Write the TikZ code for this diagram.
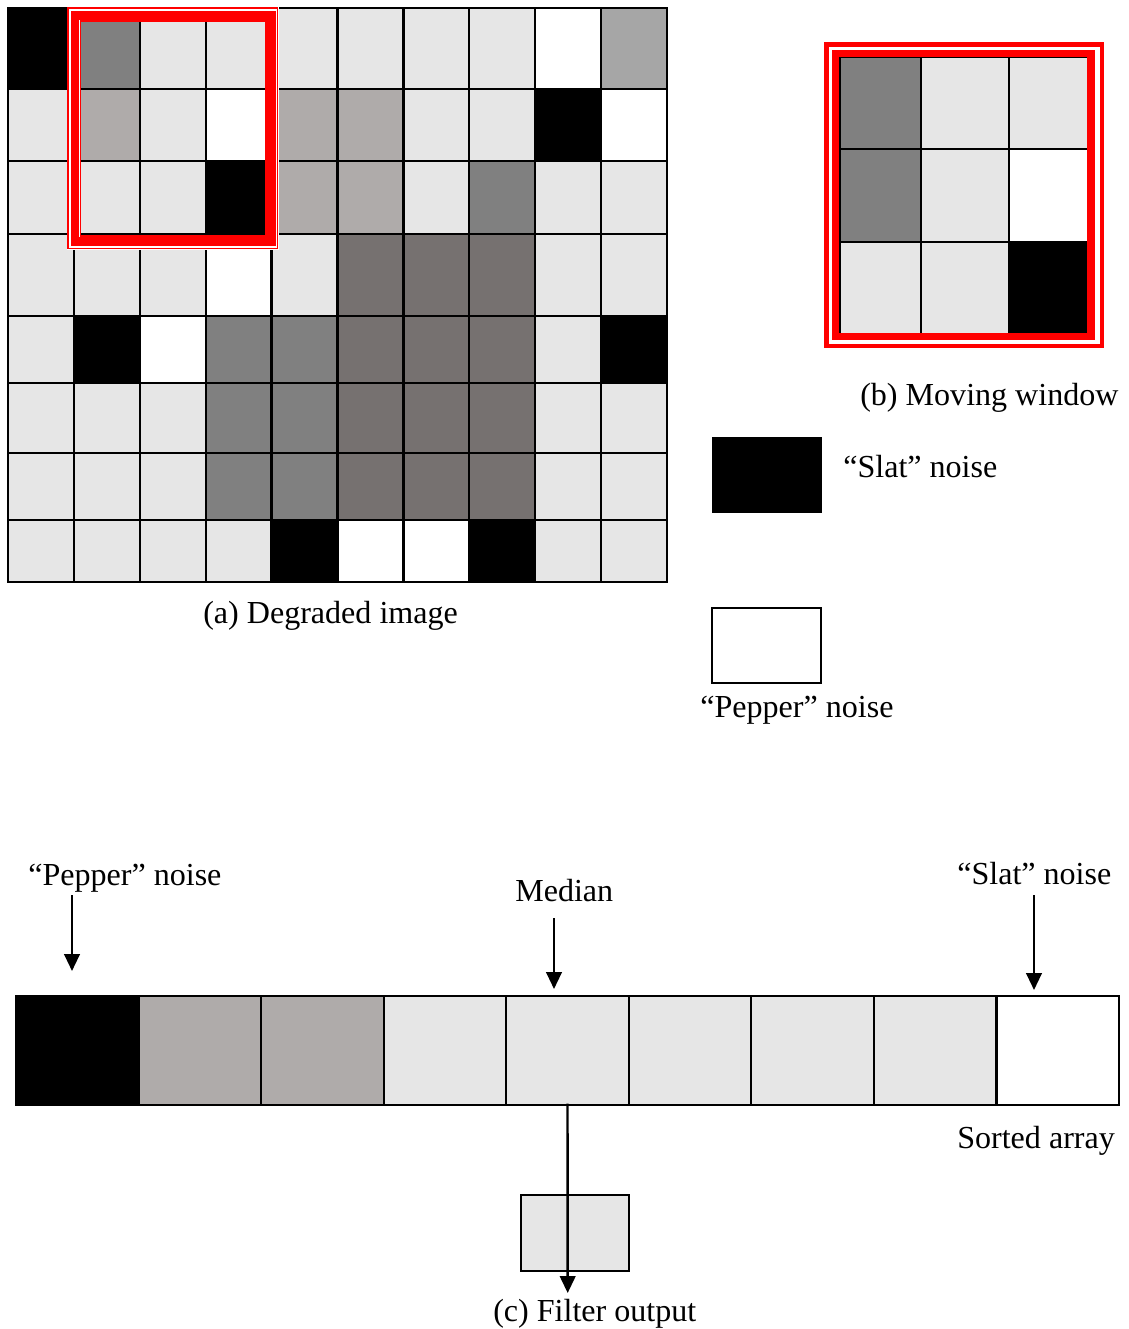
\documentclass[tikz,border=0pt]{standalone}
\usepackage{fontspec}
\setmainfont{Liberation Serif}
\usepackage{xcolor}
\definecolor{lg}{RGB}{230,230,230}
\definecolor{mg}{RGB}{128,128,128}
\definecolor{tp}{RGB}{175,171,170}
\definecolor{dk}{RGB}{118,113,112}
\definecolor{sg}{RGB}{166,166,166}
\definecolor{winred}{RGB}{255,0,0}
\usetikzlibrary{arrows.meta}

\tikzset{
  pixcell/.style={draw=black, line width=1.6pt},
  lbl/.style={font=\fontsize{22.8}{27}\selectfont, inner sep=0pt, anchor=base west},
  arr/.style={line width=1.7pt, -{Triangle[length=12pt, width=11pt]}},
}

\begin{document}
\begin{tikzpicture}[x=0.025cm, y=-0.025cm]
      \useasboundingbox (0,0) rectangle (1129,1329);
      % (a) Degraded image
      \foreach \yt/\yb/\row in {
          8/89/{black,mg,lg,lg,lg,lg,lg,lg,white,sg},
          89/161/{lg,tp,lg,white,tp,tp,lg,lg,black,white},
          161/234/{lg,lg,lg,black,tp,tp,lg,mg,lg,lg},
          234/316/{lg,lg,lg,white,lg,dk,dk,dk,lg,lg},
          316/383/{lg,black,white,mg,mg,dk,dk,dk,lg,black},
          383/453/{lg,lg,lg,mg,mg,dk,dk,dk,lg,lg},
          453/520/{lg,lg,lg,mg,mg,dk,dk,dk,lg,lg},
          520/582/{lg,lg,lg,lg,black,white,white,black,lg,lg}}{
        \foreach \c [count=\i from 0] in \row {
          \draw[pixcell, fill=\c] ({8+65.9*\i},\yt) rectangle ({8+65.9*(\i+1)},\yb);
        }
      }
      % window frame on the image
      \draw[white, line width=10pt] (74,14) rectangle (272,242.5);
      \draw[winred, line width=1.4pt] (68,8) rectangle (277.5,248.5);
      \draw[winred, line width=6pt] (74.8,15.5) rectangle (271.3,241.5);
      \draw[winred, line width=1.1pt] (80.5,21) rectangle (266,236);
      \node[lbl] (capa) at (203,623) {(a) Degraded image};
      % (b) Moving window
      \foreach \xa/\ya/\xb/\yb/\c in {
          840/57/921/149/mg, 921/57/1009/149/lg, 1009/57/1089/149/lg,
          840/149/921/242/mg, 921/149/1009/242/lg, 1009/149/1089/242/white,
          840/242/921/334/lg, 921/242/1009/334/lg, 1009/242/1089/334/black}{
        \draw[pixcell, fill=\c] (\xa,\ya) rectangle (\xb,\yb);
      }
      \draw[winred, line width=3.5pt] (826.5,44.5) rectangle (1102,346);
      \draw[winred, line width=5pt] (835.5,53.5) rectangle (1091,336.5);
      \node[lbl] (capb) at (860,405) {(b) Moving window};
      % Legend
      \fill[black] (712,437) rectangle (822,513);
      \node[lbl] (slatkey) at (843,477) {“Slat” noise};
      \draw[line width=2pt, fill=white] (712,608) rectangle (821,683);
      \node[lbl] (pepkey) at (700,717) {“Pepper” noise};
      % Sorted array
      \foreach \c [count=\i from 0] in {black,tp,tp,lg,lg,lg,lg,lg,white}{
        \node[pixcell, fill=\c, minimum width=3.064cm, minimum height=2.725cm,
              inner sep=0pt, outer sep=0pt] (s\i) at ({16+122.56*(\i+0.5)},1050.5) {};
      }
      \node[lbl] (sorted) at (957,1148) {Sorted array};
      % Labels over the array
      \node[lbl] (peplbl) at (28,885) {“Pepper” noise};
      \node[lbl] (medlbl) at (515,901) {Median};
      \node[lbl] (slatlbl) at (957,884) {“Slat” noise};
      \coordinate (pepA) at (72,895);
      \coordinate (pepB) at (72,971);
      \coordinate (medA) at (554,918);
      \coordinate (medB) at (554,989);
      \coordinate (slatA) at (1034,895);
      \coordinate (slatB) at (1034,990);
      \draw[arr] (pepA) -- (pepB);
      \draw[arr] (medA) -- (medB);
      \draw[arr] (slatA) -- (slatB);
      % (c) Filter output
      \draw[line width=1.6pt, fill=lg] (521,1195) rectangle (629,1271);
      \coordinate (outtip) at (567.7,1293);
      \draw[arr] ([yshift=1pt]s4.south) -- (outtip);
      \node[lbl] (capc) at (493,1321) {(c) Filter output};
\end{tikzpicture}
\end{document}
